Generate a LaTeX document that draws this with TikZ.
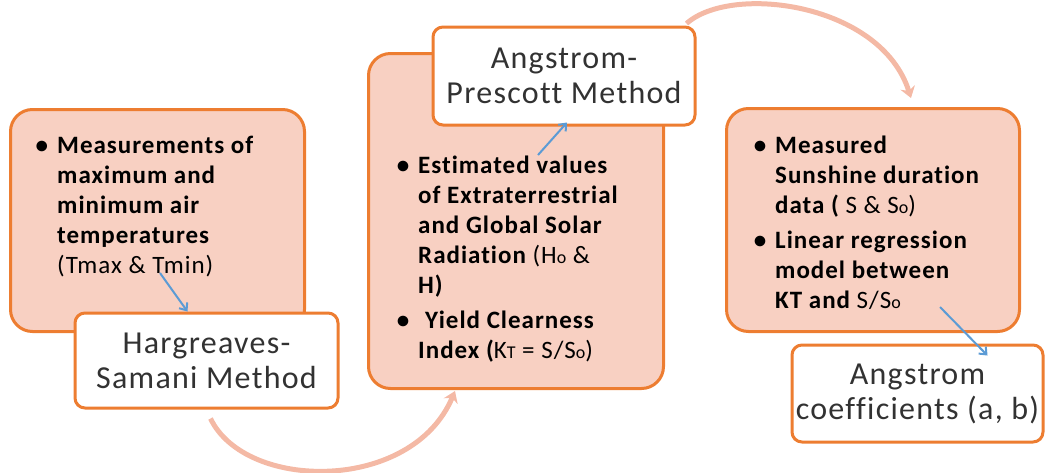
\documentclass[tikz,border=0pt]{standalone}
\usepackage{fontspec}
\setmainfont{Carlito}
\newfontfamily\spaced[LetterSpace=4,Ligatures=NoCommon]{Carlito}
\usepackage{tikz}
\usetikzlibrary{calc,arrows.meta}

\definecolor{boxorange}{RGB}{237,125,49}
\definecolor{boxpink}{RGB}{248,208,194}
\definecolor{loopsalmon}{RGB}{244,185,165}
\definecolor{linkblue}{RGB}{91,155,213}
\definecolor{titlegray}{RGB}{50,50,50}

\newcommand{\lo}[1]{{\fontsize{18}{18}\selectfont #1}}
\newcommand{\bul}{\llap{\textbullet\hspace{9pt}}}

\begin{document}
\begin{tikzpicture}[x=1pt,y=-1pt,
  databox/.style={draw=boxorange, line width=3pt, fill=boxpink, rounded corners=22pt, anchor=north west, inner sep=0pt},
  titlebox/.style={draw=boxorange, line width=3pt, fill=white, rounded corners=10pt, align=center,
    text=titlegray, font=\spaced\fontsize{32}{35}\selectfont, inner sep=0pt},
  bodytext/.style={anchor=north west, align=left, inner sep=0pt, font=\spaced\fontsize{25}{30}\selectfont\bfseries},
  loop/.style={loopsalmon, line width=5pt, -{Stealth[length=11pt,width=15pt]}},
  link/.style={linkblue, line width=2pt, -{Straight Barb[length=6pt,width=10pt]}}]
\useasboundingbox (0,0) rectangle (1045,472);

% input boxes
\node[databox, minimum width=294, minimum height=222] (temp) at (9,108) {};
\node[databox, minimum width=295, minimum height=335] (est) at (367,52) {};
\node[databox, minimum width=293, minimum height=223] (sun) at (725,107) {};

\node[bodytext] (temptext) at (57,136) {\bul Measurements of\\ maximum and\\ minimum air\\ temperatures\\
  \mdseries(Tmax \& Tmin)};
\node[bodytext] (esttext) at (418,156) {\bul Estimated values\\ of Extraterrestrial\\ and Global Solar\\
  Radiation {\mdseries(H\lo{o} \&}\\ H)\\[5pt] \bul\hspace{7pt}Yield Clearness\\ Index ({\mdseries K\lo{T} = S/S\lo{o})}};
\node[bodytext] (suntext) at (775,136) {\bul Measured\\ Sunshine duration\\ data ( {\mdseries S \& S\lo{o})}\\[5pt]
  \bul Linear regression\\ model between\\ KT and {\mdseries S/S\lo{o}}};

% methods
\node[titlebox, minimum width=263, minimum height=95] (hs) at (206.5,360.5) {Hargreaves-\\Samani Method};
\node[titlebox, minimum width=262, minimum height=98] (ap) at (564,76) {Angstrom-\\Prescott Method};
\node[titlebox, minimum width=251, minimum height=97] (coef) at (917.5,393.5) {Angstrom\\coefficients (a, b)};

% flow
\draw[loop] ($(hs.south)+(4,9)$) .. controls +(35,73) and +(-43,102) .. ($(est.south)+(-61,1)$);
\draw[loop] ($(ap.north east)+(-10,-2)$) .. controls +(45,-40) and +(-30,-95) .. ($(sun.north)+(38,-9)$);

\coordinate (c1) at (160,273);
\coordinate (c2) at (538,155);
\coordinate (c3) at (940,307);
\draw[link] (c1) -- ($(hs.north)+(-19,0)$);
\draw[link] (c2) -- ($(ap.south)+(3,-4)$);
\draw[link] (c3) -- ($(coef.north)+(70,12)$);
\end{tikzpicture}
\end{document}
